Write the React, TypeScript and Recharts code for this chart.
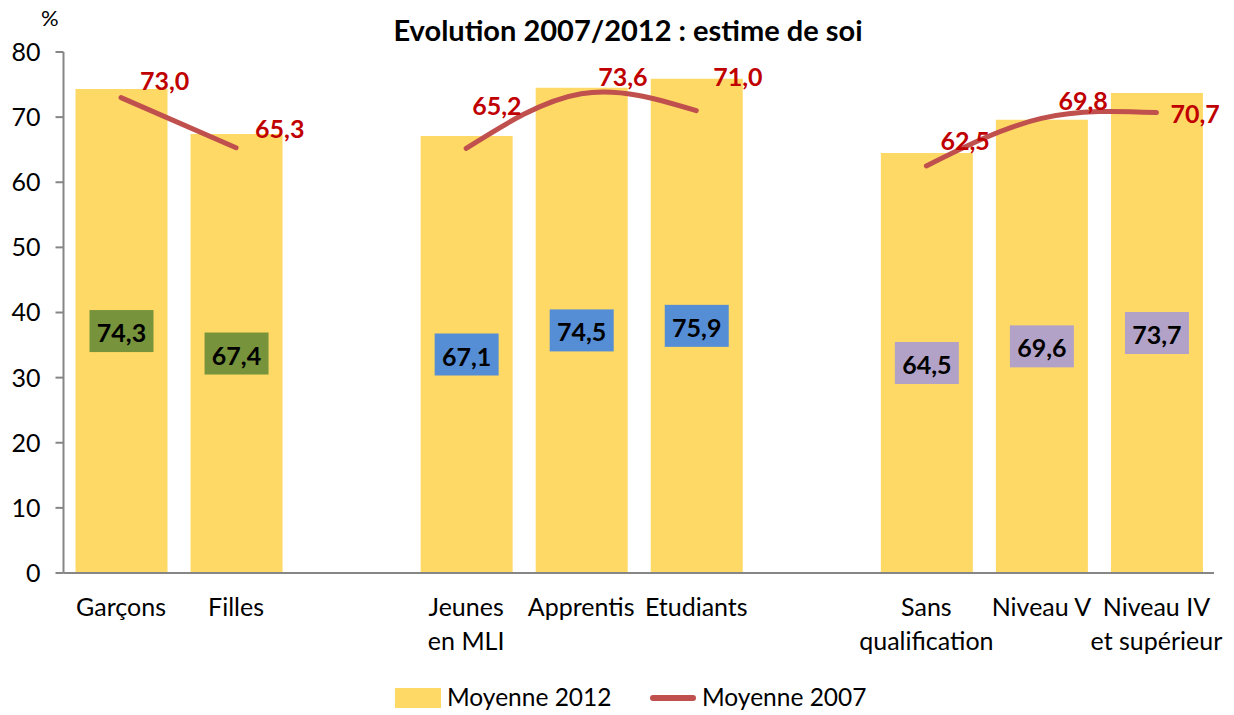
import React from 'react';
import { ComposedChart, Bar, Line, XAxis, YAxis, LabelList } from 'recharts';

const categories = ['Garçons', 'Filles', '', 'Jeunes\nen MLI', 'Apprentis', 'Etudiants', ' ', 'Sans\nqualification', 'Niveau V', 'Niveau IV\net supérieur'];
const moyenne2012 = [74.3, 67.4, null, 67.1, 74.5, 75.9, null, 64.5, 69.6, 73.7];
const moyenne2007 = [73.0, 65.3, null, 65.2, 73.6, 71.0, null, 62.5, 69.8, 70.7];
const yTicks = [0, 10, 20, 30, 40, 50, 60, 70, 80];

const boxColors = ['#77933C', '#77933C', null, '#558ED5', '#558ED5', '#558ED5', null, '#B3A2C7', '#B3A2C7', '#B3A2C7'];
const lineLabelOffsets: [number, number][] = [[19, -18], [19, -20], [0, 0], [6, -43], [17, -18], [17, -35], [0, 0], [14, -26], [17, -18], [14, 0]];

const data = categories.map((name, i) => ({ name, y2012: moyenne2012[i], y2007: moyenne2007[i], box: boxColors[i] }));
const barIndices = moyenne2012.map((v, i) => (v == null ? -1 : i)).filter((i) => i >= 0);

const FONT = 'Lato, "Open Sans", sans-serif';
const fmt = (v: number) => v.toFixed(1).replace('.', ',');

const XTick = (props: any) => {
  const { x, y, payload } = props;
  if (!String(payload.value).trim()) return null;
  const lines = String(payload.value).split('\n');
  return (
    <text x={x} y={y + 35} textAnchor="middle" fontFamily={FONT} fontSize={25} fill="#000">
      {lines.map((l, i) => (
        <tspan key={i} x={x} dy={i === 0 ? 0 : 34}>{l}</tspan>
      ))}
    </text>
  );
};

const BarLabel = (props: any) => {
  const { x, y, width, height, value, index } = props;
  if (value == null) return null;
  const cx = x + width / 2;
  const cy = y + height / 2;
  const di = barIndices[index] ?? index;
  const c = boxColors[di] || '#77933C';
  return (
    <g>
      <rect x={cx - 32} y={cy - 21} width={64} height={42} fill={c} />
      <text x={cx} y={cy + 1} textAnchor="middle" dominantBaseline="central" fontFamily={FONT} fontWeight="bold" fontSize={25} fill="#000">{fmt(value)}</text>
    </g>
  );
};

const LineLabel = (props: any) => {
  const { x, y, value, index } = props;
  if (value == null) return null;
  const [dx, dy] = lineLabelOffsets[index] || [15, -20];
  return (
    <text x={x + dx} y={y + dy} textAnchor="start" dominantBaseline="central" fontFamily={FONT} fontWeight="bold" fontSize={25} fill="#C00000">{fmt(value)}</text>
  );
};

export default function App() {
  return (
    <div style={{ position: 'absolute', left: 0, top: 0, width: 1234, height: 715, background: '#fff', fontFamily: FONT }}>
      <div style={{ position: 'absolute', left: 0, width: 1256, top: 11, textAlign: 'center', fontWeight: 'bold', fontSize: 29, lineHeight: '38px', color: '#000' }}>
        Evolution 2007/2012 : estime de soi
      </div>
      <div style={{ position: 'absolute', left: 41, top: 4, fontSize: 22, color: '#000' }}>%</div>
      <ComposedChart width={1234} height={715} data={data} margin={{ top: 52, right: 20, left: 0, bottom: 42 }} barCategoryGap="20%">
        <XAxis dataKey="name" interval={0} tick={<XTick />} tickLine={false} axisLine={{ stroke: '#868686', strokeWidth: 2 }} height={100} />
        <YAxis domain={[0, 80]} ticks={yTicks} width={63.5} interval={0} tick={{ fontFamily: FONT, fontSize: 25, fill: '#000' }} tickSize={8} tickMargin={15} axisLine={{ stroke: '#868686', strokeWidth: 2 }} tickLine={{ stroke: '#868686', strokeWidth: 2 }} />
        <Bar dataKey="y2012" fill="#FFD966" barSize={92} isAnimationActive={false}>
          <LabelList dataKey="y2012" content={<BarLabel />} />
        </Bar>
        <Line dataKey="y2007" type="natural" stroke="#C0504D" strokeWidth={5} strokeLinecap="round" dot={false} activeDot={false} connectNulls={false} isAnimationActive={false}>
          <LabelList dataKey="y2007" content={<LineLabel />} />
        </Line>
      </ComposedChart>
      <div style={{ position: 'absolute', left: 395, top: 688, width: 46, height: 20, background: '#FFD966' }} />
      <div style={{ position: 'absolute', left: 447, top: 682, fontSize: 24.5, lineHeight: '30px', color: '#000' }}>Moyenne 2012</div>
      <div style={{ position: 'absolute', left: 650, top: 695, width: 46, height: 6, borderRadius: 3, background: '#C0504D' }} />
      <div style={{ position: 'absolute', left: 702, top: 682, fontSize: 24.5, lineHeight: '30px', color: '#000' }}>Moyenne 2007</div>
    </div>
  );
}
